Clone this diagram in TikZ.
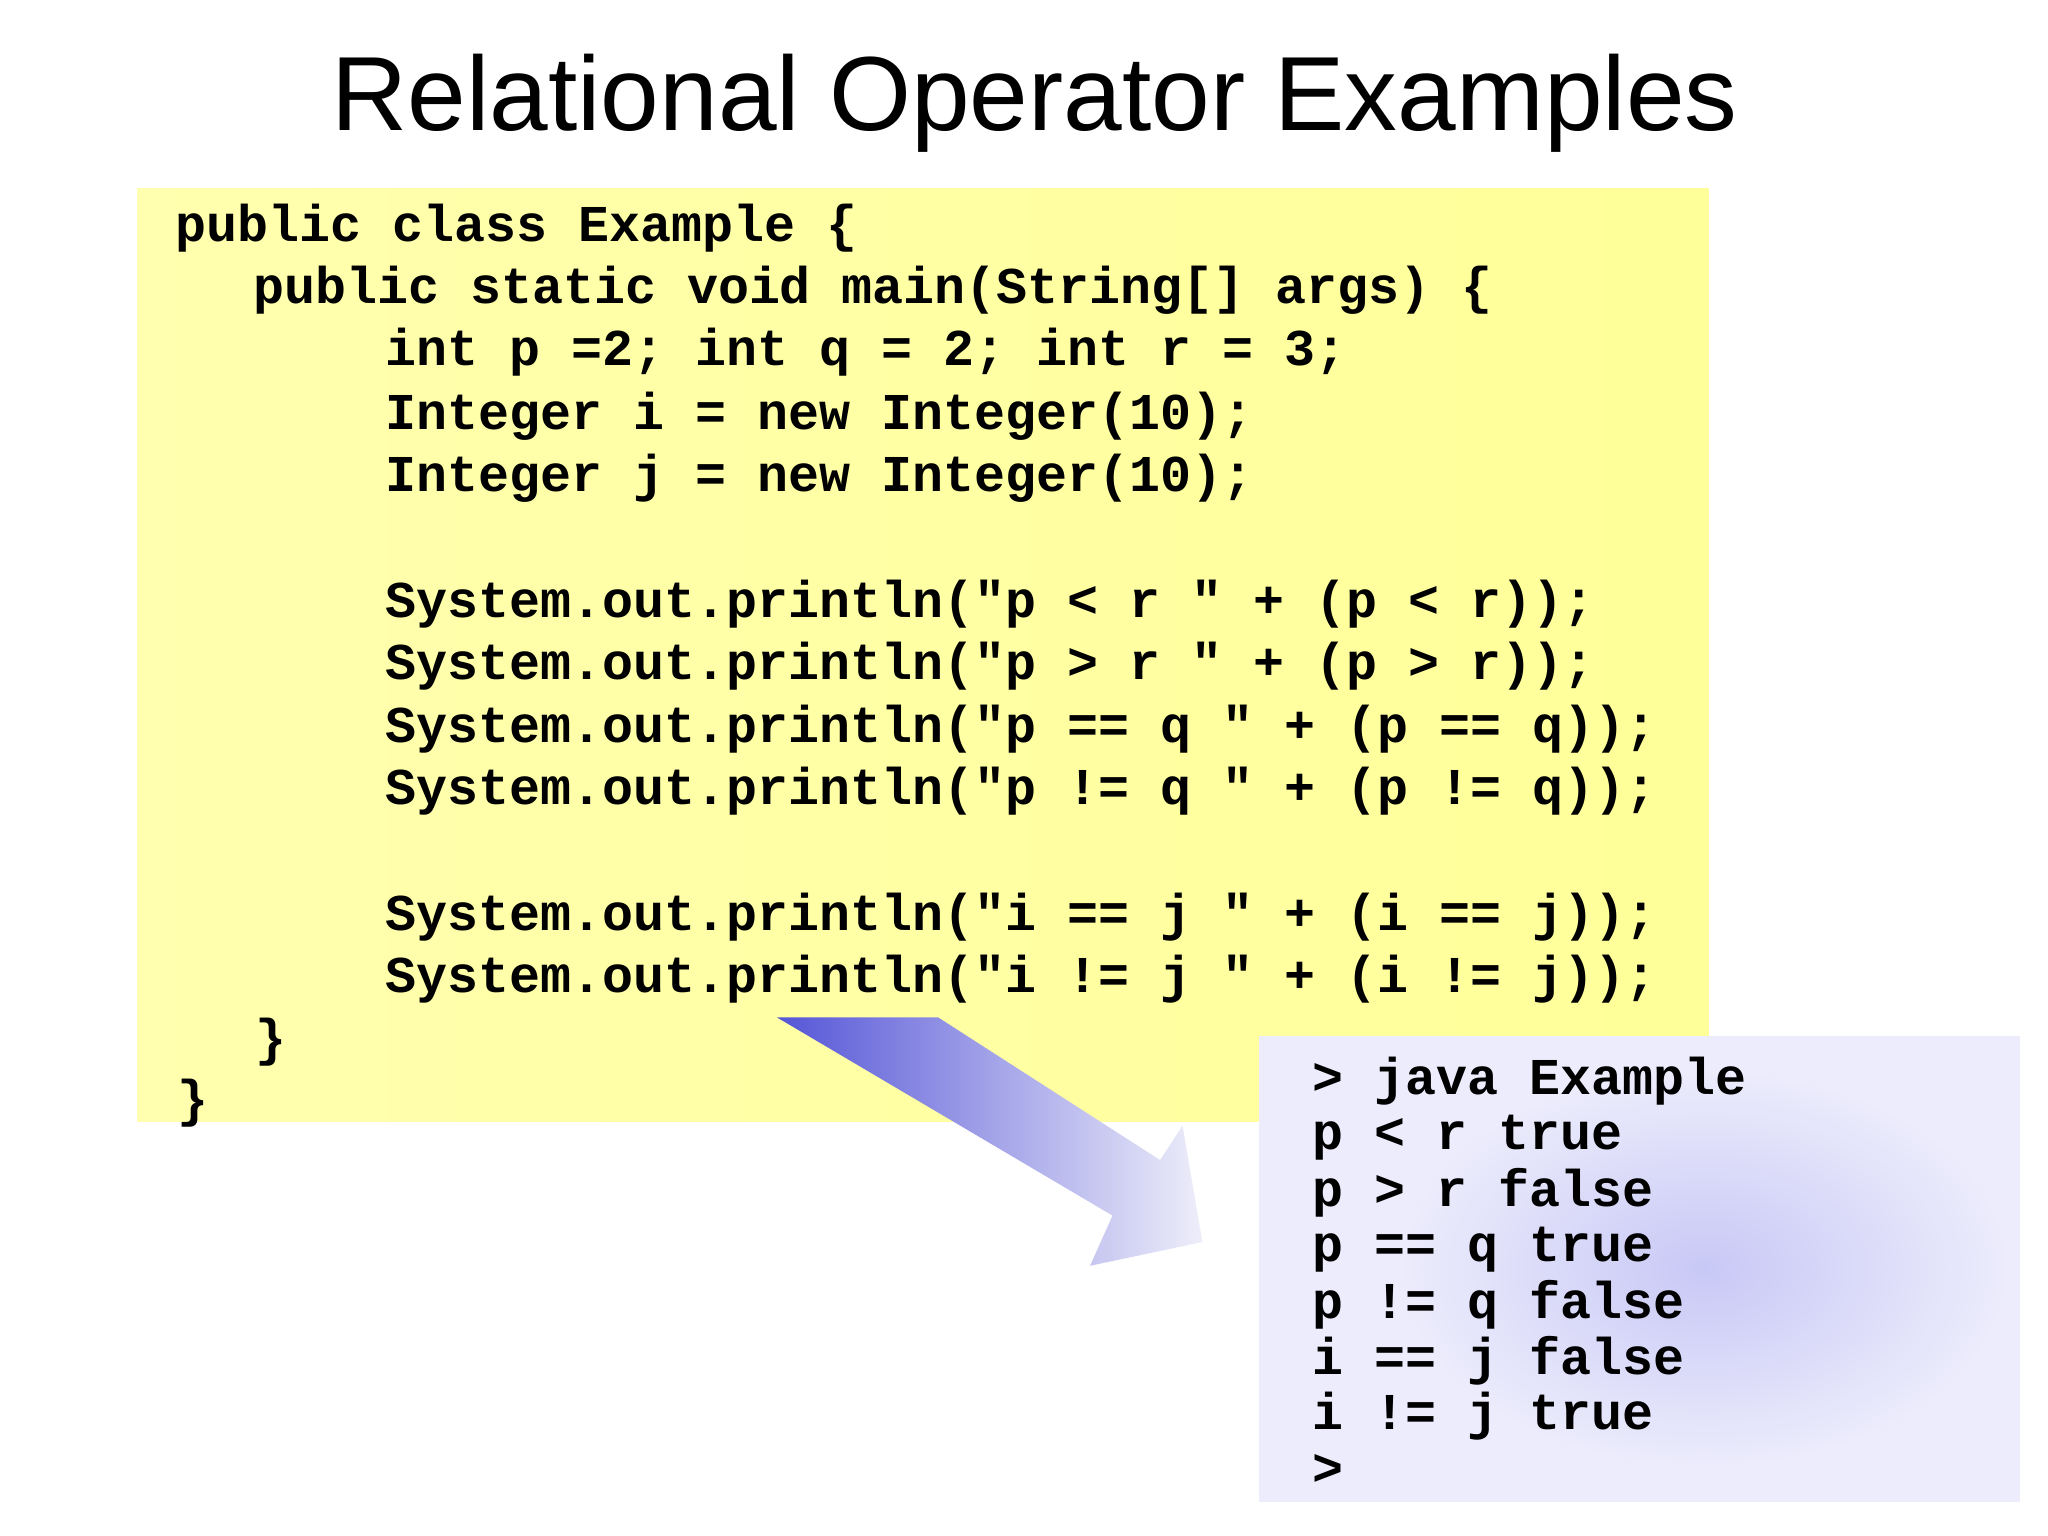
\documentclass[tikz,border=0pt]{standalone}
\usepackage{fontspec}
\setmainfont{Liberation Sans}
\newfontfamily\codefont{Liberation Mono}
\usetikzlibrary{shadings}
\definecolor{codeyellow}{RGB}{255,255,153}
\definecolor{codeyellowlt}{RGB}{255,255,175}
\definecolor{outbg}{RGB}{236,236,252}
\definecolor{outglow}{RGB}{200,200,246}
\definecolor{arrowblue}{RGB}{85,85,215}
\definecolor{arrowlight}{RGB}{238,238,250}
\tikzset{
  code/.style={anchor=base west,inner sep=0pt,font=\codefont\bfseries\fontsize{14.7}{17}\selectfont},
}
\begin{document}
\begin{tikzpicture}[x=0.013213cm,y=-0.013213cm]
\useasboundingbox (0,0) rectangle (1550,1162);
\fill[white] (0,0) rectangle (1550,1162);
\node[font=\fontsize{30}{36}\selectfont,inner sep=0pt] (title) at (783,78) {Relational Operator Examples};
% code box
\shade[left color=codeyellowlt,right color=codeyellow] (104,143) rectangle (1293,849);
\node[code] (l1) at (132,183) {public class Example \{};
\node[code] (l2) at (191,230) {public static void main(String[] args) \{};
\node[code] (l3) at (291,277) {int p =2; int q = 2; int r = 3;};
\node[code] (l4) at (291,325) {Integer i = new Integer(10);};
\node[code] (l5) at (291,372) {Integer j = new Integer(10);};
\node[code] (l6) at (291,467) {System.out.println("p < r " + (p < r));};
\node[code] (l7) at (291,514) {System.out.println("p > r " + (p > r));};
\node[code] (l8) at (291,562) {System.out.println("p == q " + (p == q));};
\node[code] (l9) at (291,609) {System.out.println("p != q " + (p != q));};
\node[code] (l10) at (291,704) {System.out.println("i == j " + (i == j));};
\node[code] (l11) at (291,751) {System.out.println("i != j " + (i != j));};
\node[code] (l12) at (193,799) {\}};
\node[code] (l13) at (134,845) {\}};
% arrow
\shade[left color=arrowblue,right color=arrowlight]
  (588,770) -- (710,770) -- (878,878) -- (895,852) -- (910,940) -- (825,958) -- (842,920) -- cycle;
% output box
\fill[outbg] (953,784) rectangle (1529,1137);
\begin{scope}
\clip (953,784) rectangle (1529,1137);
\shade[inner color=outglow,outer color=outbg] (1290,960) ellipse (230 and 150);
\end{scope}
\node[code] (o1) at (993,828) {> java Example};
\node[code] (o2) at (993,870) {p < r true};
\node[code] (o3) at (993,913) {p > r false};
\node[code] (o4) at (993,955) {p == q true};
\node[code] (o5) at (993,998) {p != q false};
\node[code] (o6) at (993,1040) {i == j false};
\node[code] (o7) at (993,1082) {i != j true};
\node[code] (o8) at (993,1124) {>};
\end{tikzpicture}
\end{document}
